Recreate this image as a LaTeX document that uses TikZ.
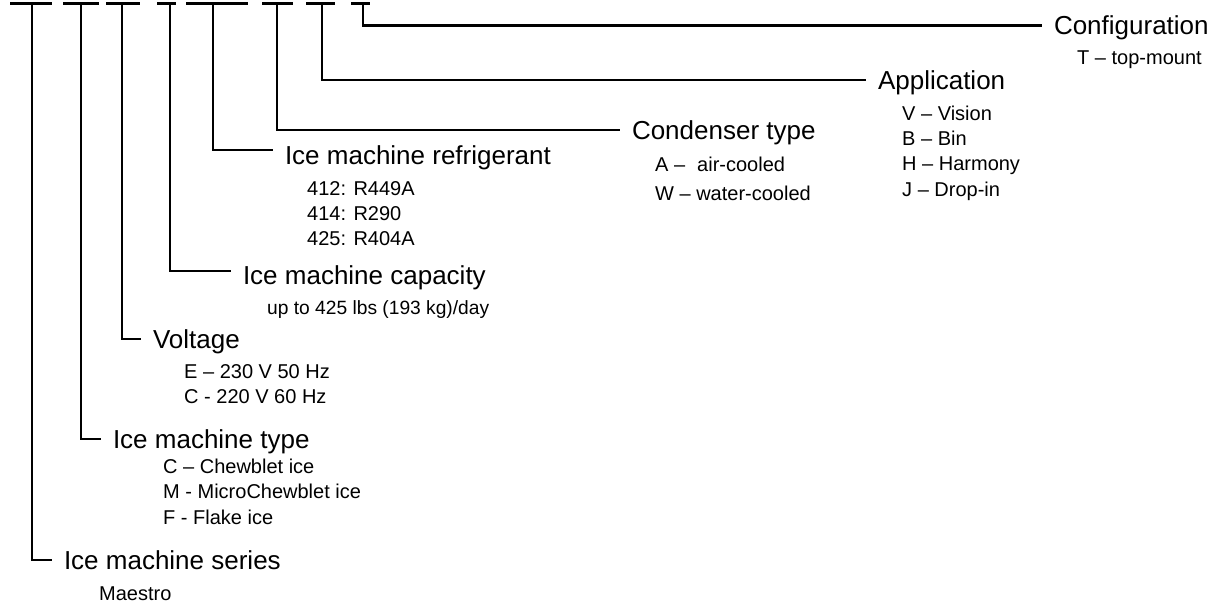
\documentclass[tikz,border=0pt]{standalone}
\usepackage{fontspec}
\setmainfont{Liberation Sans}
\usepackage{tikz}
\tikzset{
    bar/.style={
        draw,
        line width=2.7pt
    },
    head/.style={
        anchor=west,
        inner sep=0pt,
        outer xsep=12pt,
        outer ysep=0pt,
        text height=18.6pt,
        text depth=0pt,
        font=\fontsize{26}{30}\selectfont
    },
    item/.style={
        anchor=base west,
        inner sep=0pt,
        font=\fontsize{20}{24}\selectfont
    }
}

\begin{document}
\begin{tikzpicture}[x=1pt,y=-1pt]
  \useasboundingbox (0,0) rectangle (1215,603);

  % Code positions along the top
  \foreach \n/\xl/\xr/\xs in {ser/10/52/32, typ/63/99/81, vol/106/140/122, cap/157/176/170,
      ref/186/248/213, cond/262/293/277, app/306/335/322, conf/351/370/363} {
    \draw[bar] (\xl,3.5) -- (\xr,3.5);
    \coordinate (\n) at (\xs,3.5);
  }

  % Headings
  \node[head] (hconf) at (1042,25.5) {Configuration};
  \node[head] (happ) at (866,80) {Application};
  \node[head] (hcond) at (620,130) {Condenser type};
  \node[head] (href) at (273,155) {Ice machine refrigerant};
  \node[head] (hcap) at (231,275) {Ice machine capacity};
  \node[head] (hvol) at (141,339) {Voltage};
  \node[head] (htyp) at (101,439) {Ice machine type};
  \node[head] (hser) at (52,560) {Ice machine series};

  % Leaders from the code to the headings
  \foreach \n in {ser,typ,vol,cond,app,conf}
    \draw[bar] (\n) |- (h\n);
  \draw[bar] (ref) |- ([yshift=5pt]href.west);
  \draw[bar] (cap) |- ([yshift=4pt]hcap.west);

  % Options
  \node[item] (iconf) at (1077,64) {T – top-mount};
  \foreach \i/\t in {0/V – Vision, 1/B – Bin, 2/H – Harmony, 3/J – Drop-in}
    \node[item] (iapp\i) at (902,{120+25.4*\i}) {\t};
  \node[item] (icond0) at (655,171) {A –\hspace{12pt}air-cooled};
  \node[item] (icond1) at (655,200) {W – water-cooled};
  \foreach \i/\t in {0/412: R449A, 1/414: R290, 2/425: R404A}
    \node[item] (iref\i) at (307,{195+25*\i}) {\t};
  \node[item, font=\fontsize{19.2}{24}\selectfont] (icap) at (267,314) {up to 425 lbs (193 kg)/day};
  \foreach \i/\t in {0/E – 230 V 50 Hz, 1/C - 220 V 60 Hz}
    \node[item] (ivol\i) at (184,{378+25*\i}) {\t};
  \foreach \i/\t in {0/C – Chewblet ice, 1/M - MicroChewblet ice, 2/F - Flake ice}
    \node[item] (ityp\i) at (163,{473+25.5*\i}) {\t};
  \node[item] (iser) at (99,600) {Maestro};
\end{tikzpicture}
\end{document}
